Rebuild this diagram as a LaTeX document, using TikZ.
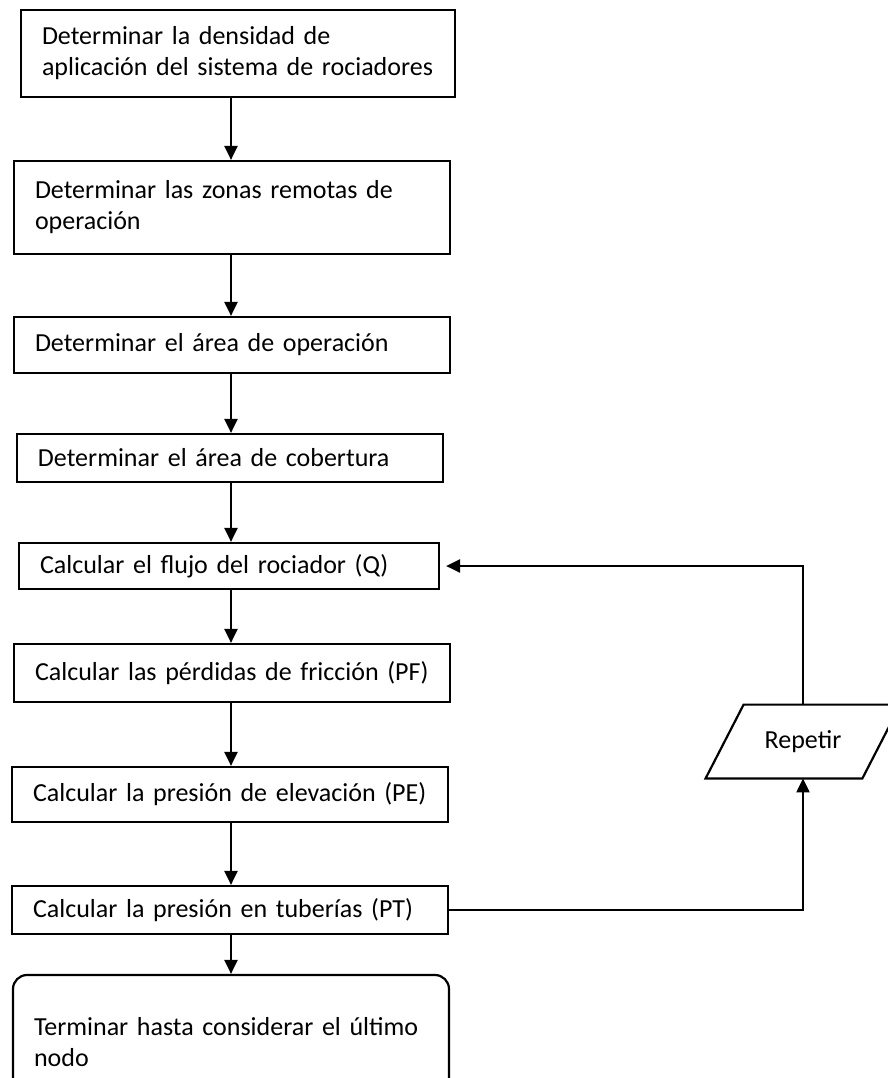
\documentclass[tikz,border=0pt]{standalone}
\usepackage{fontspec}
\setmainfont{Carlito}
\usetikzlibrary{arrows.meta,positioning,calc}
\tikzset{
  paso/.style    = {draw,line width=1.1pt,align=left,inner xsep=10.5pt,
                     inner ysep=2pt,font=\fontsize{13pt}{15.5pt}\selectfont},
  fin/.style     = {paso,rounded corners=7pt},
  rep/.style     = {minimum width=78pt,minimum height=36.5pt,inner sep=0pt,
                     font=\fontsize{13pt}{15.5pt}\selectfont},
  flecha/.style  = {-{Triangle[length=7pt,width=6.5pt]},line width=1.1pt},
}
\begin{document}
\begin{tikzpicture}[x=0.5pt,y=-0.5pt]
  \useasboundingbox (0,0) rectangle (888,1078);
  \clip (0,0) rectangle (888,1078);

  % Pasos del calculo
  \node[paso,text width=196pt,minimum height=43.5pt] (b1) at (238,53.5)
       {Determinar la densidad de\\aplicación del sistema de rociadores};
  \node[paso,text width=197pt,minimum height=46.5pt] (b2) at (232,207.5)
       {Determinar las zonas remotas de\\operación};
  \node[paso,text width=197pt,minimum height=28pt] (b3) at (232,345)
       {Determinar el área de operación};
  \node[paso,text width=192pt,minimum height=24pt] (b4) at (230,458)
       {Determinar el área de cobertura};
  \node[paso,text width=189pt,minimum height=23pt] (b5) at (229,566)
       {Calcular el flujo del rociador (Q)};
  \node[paso,text width=197pt,minimum height=29pt] (b6) at (232,673)
       {Calcular las pérdidas de fricción (PF)};
  \node[paso,text width=197pt,minimum height=27.5pt] (b7) at (230,794.5)
       {Calcular la presión de elevación (PE)};
  \node[paso,text width=197pt,minimum height=24pt] (b8) at (230,910)
       {Calcular la presión en tuberías (PT)};
  \node[fin,text width=197pt,minimum height=67.5pt] (b9) at (231,1042.5)
       {Terminar hasta considerar el último\\nodo};

  % Paralelogramo
  \node[rep] (r) at (803,741.5) {Repetir};
  \draw[line width=1.1pt] ($(r.south west)+(-19,0)$) -- ($(r.north west)+(19,0)$)
    -- ($(r.north east)+(19,0)$) -- ($(r.south east)+(-19,0)$) -- cycle;

  % Flujo principal
  \coordinate (col) at (231,0);
  \foreach \a/\b in {b1/b2,b2/b3,b3/b4,b4/b5,b5/b6,b6/b7,b7/b8,b8/b9}{
    \draw[flecha] (\a.south -| col) -- (\b.north -| col);
  }

  % Lazo de repeticion
  \draw[flecha] (b8.east) -| (r.south);
  \draw[flecha,shorten >=3pt] (r.north) |- (b5.east);
\end{tikzpicture}
\end{document}
